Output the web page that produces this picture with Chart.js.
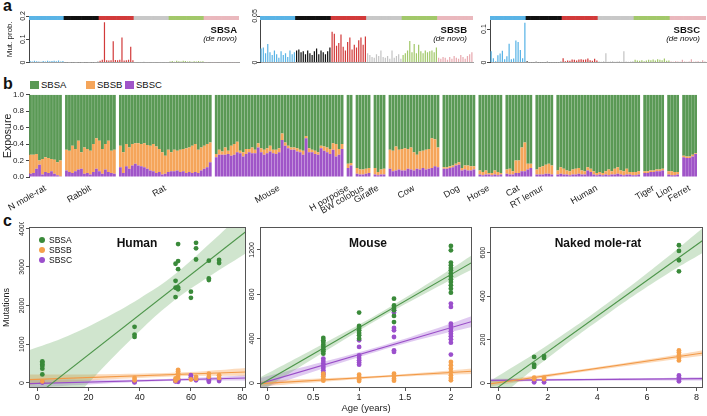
<!DOCTYPE html>
<html>
<head>
<meta charset="utf-8">
<script src="https://cdn.jsdelivr.net/npm/chart.js@4.4.1/dist/chart.umd.min.js"></script>
<style>
body { margin: 0; width: 707px; height: 416px; position: relative; overflow: hidden; background: #fff;
  font-family: 'Liberation Sans', Arial, sans-serif; color: #111; }
canvas { position: absolute; }
.t { position: absolute; white-space: nowrap; }
.pl { font-weight: bold; font-size: 16px; line-height: 16px; }
.sig { font-weight: bold; font-size: 9.5px; line-height: 11px; text-align: right; }
.dn { font-style: italic; font-size: 8px; line-height: 10px; text-align: right; }
.ttl { font-weight: bold; font-size: 12px; line-height: 14px; transform: translateX(-50%); }
.lg { font-size: 9.5px; line-height: 10px; }
.sq { position: absolute; width: 9px; height: 8px; }
.dot { position: absolute; width: 6px; height: 6px; border-radius: 50%; }
</style>
</head>
<body>
<div class="t pl" style="left:3px;top:-2px">a</div>
<div class="t pl" style="left:3px;top:76px">b</div>
<div class="t pl" style="left:3px;top:213px">c</div>

<canvas id="a1" width="242" height="66" style="left:0;top:0;width:242px;height:66px"></canvas>
<canvas id="a2" width="245" height="66" style="left:231px;top:0;width:245px;height:66px"></canvas>
<canvas id="a3" width="246" height="66" style="left:461px;top:0;width:246px;height:66px"></canvas>
<div class="t sig" style="right:470px;top:24px">SBSA</div>
<div class="t dn" style="right:470px;top:34px">(de novo)</div>
<div class="t sig" style="right:240px;top:24px">SBSB</div>
<div class="t dn" style="right:240px;top:34px">(de novo)</div>
<div class="t sig" style="right:7px;top:24px">SBSC</div>
<div class="t dn" style="right:7px;top:34px">(de novo)</div>

<div class="sq" style="left:30px;top:81px;background:#5a9955"></div>
<div class="t lg" style="left:41px;top:80px">SBSA</div>
<div class="sq" style="left:86px;top:81px;background:#f5a55a"></div>
<div class="t lg" style="left:97px;top:80px">SBSB</div>
<div class="sq" style="left:125px;top:81px;background:#a055c8"></div>
<div class="t lg" style="left:136px;top:80px">SBSC</div>
<canvas id="b" width="707" height="130" style="left:0;top:88px;width:707px;height:130px"></canvas>

<canvas id="c1" width="250" height="194" style="left:0;top:222px;width:250px;height:194px"></canvas>
<canvas id="c2" width="245" height="194" style="left:231px;top:222px;width:245px;height:194px"></canvas>
<canvas id="c3" width="246" height="194" style="left:461px;top:222px;width:246px;height:194px"></canvas>
<div class="t ttl" style="left:137px;top:236px">Human</div>
<div class="t ttl" style="left:368px;top:236px">Mouse</div>
<div class="t ttl" style="left:598px;top:236px">Naked mole-rat</div>
<div class="dot" style="left:39px;top:237px;background:#3a8a3a"></div>
<div class="t lg" style="left:49px;top:235px;font-size:8.5px">SBSA</div>
<div class="dot" style="left:39px;top:247px;background:#f5a04b"></div>
<div class="t lg" style="left:49px;top:245px;font-size:8.5px">SBSB</div>
<div class="dot" style="left:39px;top:257px;background:#9b4fcc"></div>
<div class="t lg" style="left:49px;top:255px;font-size:8.5px">SBSC</div>

<script>
// ---- panel a: 96-channel signatures ----
const mutTypes = ['C>A', 'C>G', 'C>T', 'T>A', 'T>C', 'T>G'];
const bases = ['A', 'C', 'G', 'T'];
const sbsaProfile = [
  0.006,0.004,0.008,0.005,0.004,0.003,0.006,0.004,0.007,0.005,0.006,0.008,0.005,0.009,0.004,0.006,
  0.001,0.001,0.002,0.001,0.001,0.002,0.001,0.001,0.002,0.001,0.001,0.002,0.001,0.001,0.002,0.003,
  0.008,0.012,0.173,0.010,0.009,0.010,0.091,0.011,0.010,0.012,0.108,0.009,0.010,0.012,0.068,0.010,
  0.001,0.002,0.001,0.001,0.003,0.001,0.001,0.002,0.001,0.001,0.002,0.001,0.001,0.002,0.001,0.001,
  0.004,0.006,0.003,0.008,0.005,0.004,0.007,0.006,0.004,0.005,0.003,0.005,0.004,0.006,0.004,0.005,
  0.001,0.001,0.002,0.001,0.001,0.001,0.002,0.001,0.001,0.001,0.001,0.002,0.001,0.001,0.001,0.002];
const sbsbProfile = [
  0.015,0.016,0.010,0.020,0.011,0.008,0.013,0.009,0.005,0.012,0.008,0.010,0.006,0.013,0.009,0.011,
  0.013,0.014,0.011,0.012,0.009,0.013,0.010,0.008,0.012,0.015,0.009,0.013,0.011,0.009,0.012,0.016,
  0.033,0.031,0.018,0.021,0.030,0.017,0.013,0.022,0.027,0.014,0.019,0.016,0.024,0.027,0.019,0.028,
  0.010,0.008,0.006,0.005,0.009,0.007,0.013,0.006,0.005,0.007,0.004,0.013,0.005,0.007,0.009,0.004,
  0.008,0.010,0.013,0.023,0.011,0.020,0.010,0.019,0.012,0.010,0.013,0.011,0.012,0.013,0.011,0.016,
  0.005,0.004,0.006,0.005,0.003,0.006,0.004,0.007,0.005,0.004,0.008,0.006,0.004,0.007,0.009,0.011];
const sbscProfile = [
  0.034,0.013,0.004,0.022,0.027,0.035,0.010,0.019,0.056,0.010,0.012,0.066,0.061,0.037,0.013,0.119,
  0.004,0.001,0.001,0.001,0.002,0.001,0.001,0.001,0.001,0.002,0.001,0.001,0.001,0.001,0.001,0.002,
  0.013,0.004,0.006,0.005,0.009,0.008,0.006,0.009,0.010,0.008,0.009,0.012,0.007,0.005,0.011,0.006,
  0.003,0.002,0.004,0.028,0.002,0.003,0.004,0.002,0.003,0.004,0.002,0.034,0.003,0.002,0.003,0.004,
  0.008,0.006,0.005,0.007,0.004,0.006,0.008,0.007,0.009,0.006,0.010,0.008,0.007,0.012,0.005,0.006,
  0.003,0.002,0.004,0.003,0.002,0.008,0.003,0.002,0.003,0.010,0.002,0.003,0.004,0.002,0.007,0.003];
const sbsaTicks = [0, 0.1, 0.2];
const sbsbTicks = [0, 0.05];
const sbscTicks = [0, 0.1];

// ---- panel b: exposures per crypt, grouped by species ----
const species = ['N mole-rat','Rabbit','Rat','Mouse','H porpoise','BW colobus','Giraffe','Cow','Dog','Horse','Cat','RT lemur','Human','Tiger','Lion','Ferret'];
const expSBSA = [
  [0.73,0.73,0.72,0.80,0.78,0.76,0.77,0.78,0.79,0.82,0.80],
  [0.67,0.68,0.62,0.66,0.56,0.70,0.64,0.66,0.68,0.60,0.53,0.56,0.66,0.60,0.56,0.68,0.67],
  [0.62,0.70,0.60,0.64,0.60,0.59,0.59,0.60,0.59,0.61,0.62,0.60,0.63,0.66,0.70,0.74,0.67,0.70,0.67,0.68,0.67,0.66,0.65,0.64,0.62,0.60,0.67,0.64,0.62,0.60,0.58],
  [0.72,0.67,0.69,0.64,0.68,0.62,0.60,0.57,0.68,0.70,0.66,0.66,0.64,0.67,0.59,0.65,0.67,0.65,0.62,0.67,0.67,0.65,0.47,0.58,0.62,0.64,0.64,0.65,0.67,0.68,0.50,0.65,0.67,0.68,0.70,0.62,0.63,0.64,0.66,0.59,0.60,0.66,0.60],
  [0.84,0.83],
  [0.89,0.91,0.91,0.90,0.89],
  [0.89,0.94,0.91,0.90],
  [0.67,0.68,0.63,0.67,0.66,0.65,0.66,0.64,0.70,0.73,0.69,0.68,0.67,0.66,0.53,0.54,0.64],
  [0.88,0.88,0.87,0.86,0.84,0.82,0.89,0.86,0.86,0.87,0.87],
  [0.92,0.94,0.92,0.95,0.95,0.92,0.94,0.95],
  [0.91,0.90,0.93,0.80,0.80,0.64,0.58,0.84,0.84],
  [0.91,0.88,0.87,0.85,0.84,0.86],
  [0.92,0.88,0.90,0.92,0.93,0.91,0.90,0.89,0.92,0.93,0.88,0.90,0.93,0.95,0.94,0.95,0.93,0.91,0.93,0.90,0.88,0.92,0.93,0.90,0.94,0.94,0.94,0.93],
  [0.93,0.93,0.92,0.92,0.91,0.91,0.90],
  [0.93,0.93,0.94,0.94],
  [0.74,0.75,0.75,0.73,0.71]];
const expSBSB = [
  [0.23,0.22,0.18,0.05,0.19,0.18,0.18,0.15,0.17,0.16,0.19],
  [0.25,0.26,0.33,0.27,0.35,0.20,0.32,0.29,0.29,0.34,0.37,0.37,0.30,0.31,0.38,0.27,0.29],
  [0.26,0.25,0.27,0.26,0.26,0.25,0.27,0.27,0.29,0.29,0.30,0.33,0.32,0.28,0.27,0.22,0.27,0.23,0.26,0.24,0.27,0.27,0.30,0.30,0.33,0.34,0.28,0.28,0.28,0.28,0.24],
  [0.04,0.06,0.04,0.09,0.04,0.12,0.13,0.13,0.03,0.05,0.06,0.04,0.07,0.04,0.05,0.05,0.06,0.06,0.07,0.04,0.05,0.05,0.08,0.04,0.03,0.03,0.03,0.04,0.03,0.05,0.03,0.05,0.03,0.04,0.03,0.03,0.05,0.06,0.06,0.08,0.15,0.07,0.06],
  [0.05,0.03],
  [0.07,0.06,0.06,0.06,0.06],
  [0.08,0.04,0.06,0.07],
  [0.23,0.25,0.29,0.24,0.26,0.27,0.24,0.27,0.22,0.17,0.22,0.21,0.24,0.24,0.36,0.33,0.24],
  [0.02,0.02,0.02,0.02,0.02,0.03,0.03,0.05,0.06,0.05,0.04],
  [0.05,0.04,0.05,0.02,0.03,0.05,0.04,0.02],
  [0.05,0.07,0.04,0.15,0.15,0.29,0.35,0.07,0.05],
  [0.06,0.09,0.10,0.11,0.12,0.11],
  [0.05,0.08,0.07,0.05,0.05,0.06,0.07,0.07,0.05,0.04,0.04,0.04,0.04,0.03,0.03,0.03,0.04,0.07,0.04,0.07,0.08,0.05,0.05,0.07,0.03,0.04,0.04,0.04],
  [0.02,0.02,0.02,0.02,0.02,0.02,0.02],
  [0.04,0.05,0.04,0.03],
  [0.02,0.02,0.02,0.02,0.01]];
const expSBSC = [
  [0.04,0.05,0.10,0.15,0.03,0.06,0.05,0.07,0.04,0.02,0.01],
  [0.08,0.06,0.05,0.07,0.09,0.10,0.04,0.05,0.03,0.06,0.10,0.07,0.04,0.09,0.06,0.05,0.04],
  [0.12,0.05,0.13,0.10,0.14,0.16,0.14,0.13,0.12,0.10,0.08,0.07,0.05,0.06,0.03,0.04,0.06,0.07,0.07,0.08,0.06,0.07,0.05,0.06,0.05,0.06,0.05,0.08,0.10,0.12,0.18],
  [0.24,0.27,0.27,0.27,0.28,0.26,0.27,0.30,0.29,0.25,0.28,0.30,0.29,0.29,0.36,0.30,0.27,0.29,0.31,0.29,0.28,0.30,0.45,0.38,0.35,0.33,0.33,0.31,0.30,0.27,0.47,0.30,0.30,0.28,0.27,0.35,0.32,0.30,0.28,0.33,0.25,0.27,0.34],
  [0.11,0.14],
  [0.04,0.03,0.03,0.04,0.05],
  [0.03,0.02,0.03,0.03],
  [0.10,0.07,0.08,0.09,0.08,0.08,0.10,0.09,0.08,0.10,0.09,0.11,0.09,0.10,0.11,0.13,0.12],
  [0.10,0.10,0.11,0.12,0.14,0.15,0.08,0.09,0.08,0.08,0.09],
  [0.03,0.02,0.03,0.03,0.02,0.03,0.02,0.03],
  [0.04,0.03,0.03,0.05,0.05,0.07,0.07,0.09,0.11],
  [0.03,0.03,0.03,0.04,0.04,0.03],
  [0.03,0.04,0.03,0.03,0.02,0.03,0.03,0.04,0.03,0.03,0.08,0.06,0.03,0.02,0.03,0.02,0.03,0.02,0.03,0.03,0.04,0.03,0.02,0.03,0.03,0.02,0.02,0.03],
  [0.05,0.05,0.06,0.06,0.07,0.07,0.08],
  [0.03,0.02,0.02,0.03],
  [0.24,0.23,0.23,0.25,0.28]];
const expTicks = [0, 0.2, 0.4, 0.6, 0.8, 1.0];

// ---- panel c: mutations vs age ----
const humanAgeA = [2,2,2,2,2,2, 38,38,38, 54,54,54,54, 55,55,55,55,55, 60,60, 62,62,62, 67,67,67, 71,71];
const humanMutA = [560,520,480,440,370,220, 1450,1250,1190, 3080,2640,2460,2220, 3590,3150,2940,2470,2420, 2360,2200, 3620,3480,3190, 3160,2700,2660, 3180,3100];
const humanAgeB = [2, 38,38, 54,54, 55,55,55,55,55, 60, 62,62, 67,67, 71,71];
const humanMutB = [40, 130,70, 120,60, 340,300,250,180,120, 90, 160,110, 240,160, 200,130];
const humanAgeC = [2,2, 38,38, 54,54, 55,55,55, 60,60, 62,62, 67,67,67, 71,71];
const humanMutC = [20,10, 30,15, 50,40, 70,50,30, 200,150, 110,70, 120,70,30, 80,50];
const humanFitX = [-3.2, 81.5];
const humanFitA = [-473, 3914];
const humanFitB = [86, 285];
const humanFitC = [-17, 130];
const humanBandX = [-3.2, 10, 25, 40, 52, 65, 81.5];
const humanHiA = [847, 1161, 1628, 2185, 2716, 3460, 4474];
const humanLoA = [-1793, -739, 348, 1345, 2056, 2660, 3354];
const humanBandX2 = [-3.2, 20, 45, 65, 81.5];
const humanHiB = [216, 221, 249, 306, 385];
const humanLoB = [-44, 61, 149, 186, 185];
const humanHiC = [93, 83, 97, 141, 200];
const humanLoC = [-127, -37, 37, 61, 60];

const mouseAgeA = [0.61,0.61,0.61,0.61,0.61,0.61,0.61,0.61, 1,1,1,1,1,1,1, 1.38,1.38,1.38,1.38,1.38,1.38, 2,2,2,2,2,2,2,2,2,2,2,2,2];
const mouseMutA = [406,385,370,346,325,304,286,265, 635,514,496,475,451,430,400, 761,700,677,656,605,550, 1236,1197,1086,1062,1038,1017,987,963,935,911,881,851,815];
const mouseAgeB = [0.61,0.61,0.61,0.61, 1,1,1,1, 1.38,1.38,1.38,1.38, 2,2,2,2,2,2,2];
const mouseMutB = [84,60,39,21, 75,54,33,18, 84,63,39,21, 190,160,129,99,69,45,24];
const mouseAgeC = [0.61,0.61,0.61,0.61,0.61,0.61,0.61,0.61, 1,1,1,1,1,1,1, 1.38,1.38,1.38,1.38,1.38,1.38,1.38, 2,2,2,2,2,2,2,2,2,2,2];
const mouseMutC = [220,199,175,153,135,114,93,75, 385,325,250,226,205,184,165, 656,635,496,475,415,295,280, 716,686,535,514,490,466,445,421,394,364,256];
const mouseFitX = [-0.08, 2.23];
const mouseFitA = [-15, 1088];
const mouseFitB = [-6, 106];
const mouseFitC = [-6, 555];
const mouseBandX = [-0.08, 0.6, 1.2, 1.8, 2.23];
const mouseHiA = [50, 350, 621, 923, 1153];
const mouseLoA = [-80, 270, 571, 843, 1023];
const mouseHiB = [19, 42, 66, 100, 131];
const mouseLoB = [-31, 12, 46, 70, 81];
const mouseHiC = [44, 189, 325, 481, 605];
const mouseLoC = [-56, 129, 285, 421, 505];

const nmrAgeA = [1.45,1.45,1.45, 1.85,1.85, 7.29,7.29,7.29,7.29];
const nmrMutA = [120,84,74, 124,115, 634,608,565,514];
const nmrAgeB = [1.45,1.45, 1.85,1.85, 7.29,7.29,7.29,7.29,7.29];
const nmrMutB = [25,18, 25,18, 150,140,127,115,104];
const nmrAgeC = [1.45,1.45,1.45, 1.85,1.85, 7.29,7.29,7.29,7.29];
const nmrMutC = [15,9,3, 12,3, 35,25,15,8];
const nmrFitX = [-0.33, 8.26];
const nmrFitA = [-46, 657];
const nmrFitB = [-4, 138];
const nmrFitC = [12, 20];
const nmrBandX = [-0.33, 2, 4.5, 7, 8.26];
const nmrHiA = [9, 175, 375, 595, 714];
const nmrLoA = [-101, 115, 325, 515, 600];
const nmrHiB = [8, 41, 82, 127, 151];
const nmrLoB = [-16, 27, 68, 107, 125];
const nmrHiC = [20, 19, 21, 24, 28];
const nmrLoC = [4, 9, 11, 12, 12];

const humanXTicks = [0, 20, 40, 60, 80], humanYTicks = [0, 1000, 2000, 3000, 4000];
const mouseXTicks = [0, 0.5, 1, 1.5, 2], mouseYTicks = [0, 400, 800, 1200];
const nmrXTicks = [0, 2, 4, 6, 8], nmrYTicks = [0, 200, 400, 600];

// ---- styles ----
const stripCols = ['#5ab4e6', '#111111', '#d23a3a', '#c8c8c8', '#a2c86a', '#eab8bd'];
const barCols = ['#5ab4e6', '#111111', '#d23a3a', '#c4c4c4', '#a2c86a', '#e8aab0'];
const expCols = {A: '#5a9955', B: '#f5a55a', C: '#a055c8'};
const pointCols = ['#3a8a3a', '#f5a04b', '#9b4fcc'];
const lineCols = ['#4e964b', '#f29a48', '#9a4ec8'];
const bandCols = ['rgba(98,170,92,0.30)', 'rgba(247,160,80,0.38)', 'rgba(160,90,210,0.32)'];
const axisCol = '#444';

Chart.defaults.font.family = "'Liberation Sans', Arial, sans-serif";
Chart.defaults.color = '#222';
Chart.defaults.animation = false;

const channelLabels = [];
mutTypes.forEach(m => bases.forEach(b5 => bases.forEach(b3 => channelLabels.push(b5 + '[' + m + ']' + b3))));

const vertTicks = (size, pad) => ({
  minRotation: 90, maxRotation: 90, crossAlign: 'center', padding: pad,
  font: {size: size}, color: '#222', callback: v => String(v)
});

function profileChart(id, profile, yMax, yTicks, yPad, padRight, title) {
  const colors = [], strip = [], sCols = [];
  channelLabels.forEach((c, i) => {
    const g = Math.floor(i / 16);
    colors.push(barCols[g]);
    sCols.push(stripCols[g]);
    strip.push([yMax * 0.92, yMax]);
  });
  new Chart(document.getElementById(id), {
    type: 'bar',
    data: {
      labels: channelLabels,
      datasets: [
        {data: profile, backgroundColor: colors, barPercentage: 0.55, categoryPercentage: 1, grouped: false},
        {data: strip, backgroundColor: sCols, barPercentage: 1, categoryPercentage: 1, grouped: false}
      ]
    },
    options: {
      responsive: false, devicePixelRatio: 1,
      layout: {padding: {top: 16, right: padRight, bottom: 3.5, left: 0}},
      plugins: {legend: {display: false}, tooltip: {enabled: false}},
      scales: {
        x: {grid: {display: false, drawTicks: false}, ticks: {display: false},
            border: {color: '#888', width: 0.8}, afterFit: s => { s.height = 0; }},
        y: {min: 0, max: yMax,
            afterBuildTicks: s => { s.ticks = yTicks.map(v => ({value: v})); },
            grid: {drawOnChartArea: false, tickLength: 3, color: axisCol},
            border: {color: axisCol},
            ticks: vertTicks(7, yPad),
            title: {display: !!title, text: title, font: {size: 8}, padding: {top: 4.5, bottom: 0}},
            afterFit: s => { s.width = 29; }}
      }
    }
  });
}

profileChart('a1', sbsaProfile, 0.2, sbsaTicks, -1.9, 3, 'Mut. prob.');
profileChart('a2', sbsbProfile, 0.05, sbsbTicks, -4.5, 3, '');
profileChart('a3', sbscProfile, 0.139, sbscTicks, -1.5, 1, '');

// ---- panel b ----
const expLabels = [], tickText = [], barA = [], barB = [], barC = [];
species.forEach((sp, i) => {
  const n = expSBSA[i].length;
  for (let j = 0; j < n; j++) {
    expLabels.push(sp);
    tickText.push(j === Math.floor((n - 1) / 2) ? sp : '');
    barA.push(expSBSA[i][j]);
    barB.push(expSBSB[i][j]);
    barC.push(expSBSC[i][j]);
  }
  if (i < species.length - 1) {
    expLabels.push('');
    tickText.push('');
    barA.push(null); barB.push(null); barC.push(null);
  }
});

new Chart(document.getElementById('b'), {
  type: 'bar',
  data: {
    labels: expLabels,
    datasets: [
      {label: 'SBSC', data: barC, backgroundColor: expCols.C},
      {label: 'SBSB', data: barB, backgroundColor: expCols.B},
      {label: 'SBSA', data: barA, backgroundColor: expCols.A}
    ]
  },
  options: {
    responsive: false, devicePixelRatio: 1,
    layout: {padding: {top: 5, right: 0, bottom: 0, left: 0}},
    datasets: {bar: {barPercentage: 0.93, categoryPercentage: 1}},
    plugins: {legend: {display: false}, tooltip: {enabled: false}},
    scales: {
      x: {stacked: true, grid: {display: false, drawTicks: false}, border: {display: false},
          ticks: {autoSkip: false, minRotation: 30, maxRotation: 30, padding: 6,
                  font: {size: 9}, color: '#222', callback: (v, i) => tickText[i]},
          afterFit: s => { s.height = 41; }},
      y: {stacked: true, min: 0, max: 1,
          afterBuildTicks: s => { s.ticks = expTicks.map(v => ({value: v})); },
          grid: {drawOnChartArea: false, tickLength: 3, color: axisCol},
          border: {color: axisCol},
          ticks: {font: {size: 8}, padding: 2, color: '#222', callback: v => v.toFixed(1)},
          title: {display: true, text: 'Exposure', font: {size: 10.5}, padding: {top: 2, bottom: 0}},
          afterFit: s => { s.width = 29; }}
    }
  }
});

// ---- panel c ----
const frame = {
  id: 'frame',
  afterDraw(c) {
    const {ctx, chartArea: a} = c;
    ctx.save();
    ctx.strokeStyle = '#555';
    ctx.lineWidth = 1;
    ctx.strokeRect(Math.round(a.left) + 0.5, Math.round(a.top) + 0.5,
      Math.round(a.right - a.left) - 1, Math.round(a.bottom - a.top) - 1);
    ctx.restore();
  }
};

function ageChart(id, o) {
  const sets = [];
  o.sigs.forEach((s, k) => {
    sets.push({type: 'scatter', data: s.age.map((a, i) => ({x: a, y: s.mut[i]})),
      backgroundColor: pointCols[k], borderWidth: 0, pointRadius: 2.4, order: 0});
    sets.push({type: 'line', data: o.fitX.map((x, i) => ({x: x, y: s.fit[i]})),
      borderColor: lineCols[k], borderWidth: 1.1, pointRadius: 0, fill: false, order: 1});
    sets.push({type: 'line', data: s.bandX.map((x, i) => ({x: x, y: s.hi[i]})),
      borderColor: 'transparent', borderWidth: 0, pointRadius: 0, tension: 0.4, fill: false, order: 2});
    sets.push({type: 'line', data: s.bandX.map((x, i) => ({x: x, y: s.lo[i]})),
      borderColor: 'transparent', borderWidth: 0, pointRadius: 0, tension: 0.4,
      fill: '-1', backgroundColor: bandCols[k], order: 2});
  });
  new Chart(document.getElementById(id), {
    type: 'scatter',
    data: {datasets: sets},
    options: {
      responsive: false, devicePixelRatio: 1,
      layout: {padding: {top: 5, right: o.padRight, bottom: 0, left: 0}},
      plugins: {legend: {display: false}, tooltip: {enabled: false}},
      scales: {
        x: {type: 'linear', min: o.xMin, max: o.xMax,
            afterBuildTicks: s => { s.ticks = o.xTicks.map(v => ({value: v})); },
            grid: {drawOnChartArea: false, tickLength: 3, color: '#555'},
            border: {display: false},
            ticks: {font: {size: 9}, padding: 1, color: '#222', callback: v => String(v)},
            title: {display: !!o.xTitle, text: o.xTitle, font: {size: 9.5}, padding: {top: 0, bottom: 2}},
            afterFit: s => { s.height = 28; }},
        y: {min: o.yMin, max: o.yMax,
            afterBuildTicks: s => { s.ticks = o.yTicks.map(v => ({value: v})); },
            grid: {drawOnChartArea: false, tickLength: 3, color: '#555'},
            border: {display: false},
            ticks: vertTicks(7, o.yPad),
            title: {display: !!o.yTitle, text: o.yTitle, font: {size: 9}, padding: {top: 1.5, bottom: 0}},
            afterFit: s => { s.width = 29; }}
      }
    },
    plugins: [frame]
  });
}

ageChart('c1', {
  xMin: -3.2, xMax: 81.5, yMin: -130, yMax: 4030, xTicks: humanXTicks, yTicks: humanYTicks,
  yPad: -3.5, padRight: 4, yTitle: 'Mutations', xTitle: '', fitX: humanFitX,
  sigs: [
    {age: humanAgeA, mut: humanMutA, fit: humanFitA, bandX: humanBandX, hi: humanHiA, lo: humanLoA},
    {age: humanAgeB, mut: humanMutB, fit: humanFitB, bandX: humanBandX2, hi: humanHiB, lo: humanLoB},
    {age: humanAgeC, mut: humanMutC, fit: humanFitC, bandX: humanBandX2, hi: humanHiC, lo: humanLoC}
  ]
});
ageChart('c2', {
  xMin: -0.08, xMax: 2.23, yMin: -45, yMax: 1407, xTicks: mouseXTicks, yTicks: mouseYTicks,
  yPad: -3, padRight: 4, yTitle: '', xTitle: 'Age (years)', fitX: mouseFitX,
  sigs: [
    {age: mouseAgeA, mut: mouseMutA, fit: mouseFitA, bandX: mouseBandX, hi: mouseHiA, lo: mouseLoA},
    {age: mouseAgeB, mut: mouseMutB, fit: mouseFitB, bandX: mouseBandX, hi: mouseHiB, lo: mouseLoB},
    {age: mouseAgeC, mut: mouseMutC, fit: mouseFitC, bandX: mouseBandX, hi: mouseHiC, lo: mouseLoC}
  ]
});
ageChart('c3', {
  xMin: -0.33, xMax: 8.26, yMin: -23, yMax: 718, xTicks: nmrXTicks, yTicks: nmrYTicks,
  yPad: -1.8, padRight: 2, yTitle: '', xTitle: '', fitX: nmrFitX,
  sigs: [
    {age: nmrAgeA, mut: nmrMutA, fit: nmrFitA, bandX: nmrBandX, hi: nmrHiA, lo: nmrLoA},
    {age: nmrAgeB, mut: nmrMutB, fit: nmrFitB, bandX: nmrBandX, hi: nmrHiB, lo: nmrLoB},
    {age: nmrAgeC, mut: nmrMutC, fit: nmrFitC, bandX: nmrBandX, hi: nmrHiC, lo: nmrLoC}
  ]
});
</script>
</body>
</html>
